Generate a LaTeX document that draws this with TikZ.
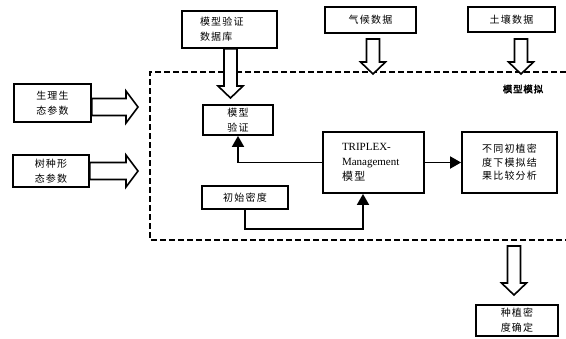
\documentclass[tikz,border=0pt]{standalone}
\usepackage{fontspec}
\setmainfont{Liberation Serif}
\newfontfamily\cjk[LetterSpace=12]{Noto Sans CJK SC}
\newfontfamily\cjkbold[FakeBold=2.5,LetterSpace=8]{Noto Sans CJK SC}
\usetikzlibrary{arrows.meta,calc}
\tikzset{
  box/.style={draw=black, line width=1.8pt, fill=white, inner sep=0pt, align=center,
    font=\cjk\fontsize{10}{15}\selectfont},
  conn/.style={line width=1.8pt, -{Triangle[length=11pt,width=12pt]}},
  harrow/.style={draw=black, line width=1.6pt, fill=white, line join=miter},
  dashbox/.style={line width=1.8pt, dash pattern=on 6pt off 3pt},
}
\newcommand\hollowdown[2]{%
  \draw[harrow] let \p1=(#1), \p2=(#2) in
    (\x1-6.5pt,\y1) -- (\x1-6.5pt,\y2+12pt) -- (\x1-12.5pt,\y2+12pt) -- (\x1,\y2)
    -- (\x1+12.5pt,\y2+12pt) -- (\x1+6.5pt,\y2+12pt) -- (\x1+6.5pt,\y1) -- cycle;}
\newcommand\hollowright[2]{%
  \draw[harrow] let \p1=(#1), \p2=(#2) in
    (\x1,\y1+8.5pt) -- (\x2-12pt,\y1+8.5pt) -- (\x2-12pt,\y1+16pt) -- (\x2,\y1)
    -- (\x2-12pt,\y1-16pt) -- (\x2-12pt,\y1-8.5pt) -- (\x1,\y1-8.5pt) -- cycle;}
\begin{document}
\begin{tikzpicture}[x=1pt,y=-1pt]
\useasboundingbox (0,0) rectangle (566,338);

% dashed simulation frame (right side runs off the picture)
\draw[dashbox] (566,72) -- (150,72) -- (150,240) -- (566,240);
\node[font=\cjkbold\fontsize{9.5}{12}\selectfont] (simlabel) at (523,89) {模型模拟};

% input boxes
\node[box, text width=59pt, inner xsep=18pt, minimum height=37pt, align=left] (db) at (229.5,29.5) {模型验证\\数据库};
\node[box, minimum width=91pt, minimum height=26pt] (climate) at (370.5,20) {气候数据};
\node[box, minimum width=87pt, minimum height=25pt] (soil) at (511.5,19.5) {土壤数据};
\node[box, minimum width=77pt, minimum height=38pt] (physio) at (52.5,103) {生理生\\态参数};
\node[box, minimum width=76pt, minimum height=32pt] (morph) at (51,171) {树种形\\态参数};

% inner boxes
\node[box, minimum width=70pt, minimum height=30pt] (verify) at (238,120) {模型\\验证};
\node[box, minimum width=86pt, minimum height=23pt] (init) at (245,197.5) {初始密度};
\node[box, text width=63pt, inner xsep=19pt, minimum height=61pt, align=left,
      font=\fontsize{11}{15}\selectfont] (triplex) at (373.5,162.5) {TRIPLEX-\\Management\\{\cjk 模型}};
\node[box, minimum width=95pt, minimum height=61pt, font=\cjk\fontsize{10}{13.5}\selectfont] (result) at (509.5,162.5) {不同初植密\\度下模拟结\\果比较分析};
\node[box, minimum width=82pt, minimum height=31pt] (plant) at (517,320.5) {种植密\\度确定};

% hollow arrows
\coordinate (dbtip) at (230.5,98);
\coordinate (cltip) at (373,74);
\coordinate (sotip) at (521,74);
\coordinate (phtip) at (138,107);
\coordinate (motip) at (138,171);
\coordinate (outstart) at (514,246);
\coordinate (outtip) at (514,295);
\hollowdown{db.south -| dbtip}{dbtip}
\hollowdown{373,39}{cltip}
\hollowdown{521,39}{sotip}
\hollowright{physio.east |- phtip}{phtip}
\hollowright{morph.east |- motip}{motip}
\hollowdown{outstart}{outtip}

% connectors
\draw[conn] (triplex.west) -| (verify.south);
\draw[conn] (triplex.east) -- (result.west);
\coordinate (bend) at (363,229);
\draw[conn] (init.south) |- (bend) -- (bend |- triplex.south);
\end{tikzpicture}
\end{document}
